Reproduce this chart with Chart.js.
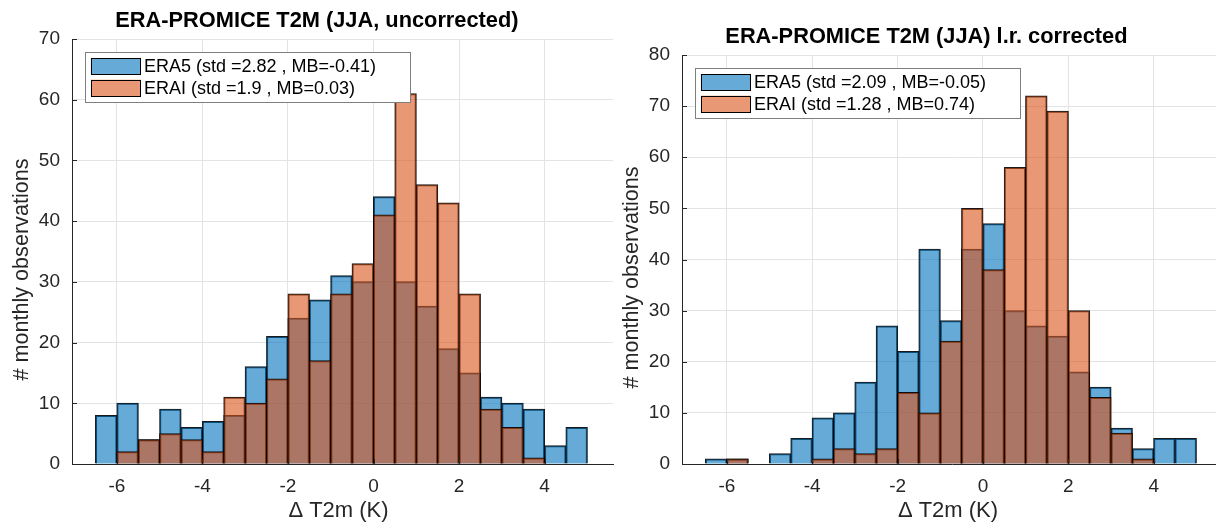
<!DOCTYPE html>
<html><head><meta charset="utf-8">
<script src="https://cdn.jsdelivr.net/npm/chart.js@4.4.1/dist/chart.umd.min.js"></script>
<style>
html,body{margin:0;padding:0;background:#fff;overflow:hidden;width:1216px;height:524px;position:relative;}
.wrap{position:absolute;top:0;height:524px;}
</style></head><body>
<div class="wrap" style="left:0;width:618px"><canvas id="c1" width="618" height="524"></canvas></div>
<div class="wrap" style="left:610px;width:618px"><canvas id="c2" width="618" height="524"></canvas></div>
<script>
// ---- data ----
const binCenters = [-6.25,-5.75,-5.25,-4.75,-4.25,-3.75,-3.25,-2.75,-2.25,-1.75,-1.25,-0.75,-0.25,0.25,0.75,1.25,1.75,2.25,2.75,3.25,3.75,4.25,4.75];
const xTicks = [-6,-4,-2,0,2,4];
const era5Uncorr = [8,10,4,9,6,7,8,16,21,24,27,31,30,44,30,26,19,15,11,10,9,3,6];
const eraiUncorr = [0,2,4,5,4,2,11,10,14,28,17,28,33,41,61,46,43,28,9,6,1,0,0];
const era5Corr   = [1,1,0,2,5,9,10,16,27,22,42,28,42,47,30,27,25,18,15,7,3,5,5];
const eraiCorr   = [0,1,0,0,0,1,3,2,3,14,10,24,50,38,58,72,69,30,13,6,1,0,0];
const titles = ['ERA-PROMICE T2M (JJA, uncorrected)', 'ERA-PROMICE T2M (JJA) l.r. corrected'];
const legendUncorr = ['ERA5 (std =2.82 , MB=-0.41)', 'ERAI (std =1.9 , MB=0.03)'];
const legendCorr   = ['ERA5 (std =2.09 , MB=-0.05)', 'ERAI (std =1.28 , MB=0.74)'];
const yMaxes = [70, 80];
const xLabel = '\u0394 T2m (K)';
const yLabel = '# monthly observations';

const BLUE = 'rgba(0,114,189,0.6)';
const ORANGE = 'rgba(217,83,25,0.6)';
const AXC = '#262626';
const FONT = '"Liberation Sans", Arial, Helvetica, sans-serif';

const decorPlugin = {
  id: 'decor',
  afterDraw(chart, args, opts) {
    const ctx = chart.ctx, a = chart.chartArea;
    const xs = chart.scales.x, ys = chart.scales.y;
    ctx.save();
    // inward tick marks
    ctx.strokeStyle = AXC; ctx.lineWidth = 1;
    ctx.beginPath();
    xTicks.forEach(v => { const px = Math.round(xs.getPixelForValue(v)) + 0.5; ctx.moveTo(px, a.bottom); ctx.lineTo(px, a.bottom - 5); });
    ys.ticks.forEach(t => { const py = Math.round(ys.getPixelForValue(t.value)) + 0.5; ctx.moveTo(a.left, py); ctx.lineTo(a.left + 5, py); });
    ctx.stroke();
    // title
    ctx.fillStyle = '#000';
    ctx.font = 'bold 21.8px ' + FONT;
    ctx.textAlign = 'center'; ctx.textBaseline = 'middle';
    ctx.fillText(opts.title, (a.left + a.right) / 2 - 25.6, a.top - 18);
    // x label
    ctx.fillStyle = AXC;
    ctx.font = '22px ' + FONT;
    ctx.fillText(xLabel, (a.left + a.right) / 2 - 4, 511);
    // y label
    ctx.font = '21.6px ' + FONT;
    ctx.save();
    ctx.translate(a.left - 50, (a.top + a.bottom) / 2 + 18);
    ctx.rotate(-Math.PI / 2);
    ctx.fillText(yLabel, 0, 0);
    ctx.restore();
    // legend
    ctx.font = '18px ' + FONT;
    const labels = chart.data.datasets.slice().sort((p, q) => p.legendIndex - q.legendIndex);
    let tw = 0; labels.forEach(d => { tw = Math.max(tw, ctx.measureText(d.label).width); });
    const bx = a.left + 13.4, by = a.top + 13, bw = 58 + tw + 35, bh = 50;
    ctx.fillStyle = '#fff';
    ctx.fillRect(bx, by, bw, bh);
    ctx.strokeStyle = '#7f7f7f'; ctx.lineWidth = 1;
    ctx.strokeRect(Math.round(bx) + 0.5, Math.round(by) + 0.5, Math.round(bw), Math.round(bh));
    labels.forEach((d, i) => {
      const sy = by + 6 + i * 21.7;
      ctx.fillStyle = d.backgroundColor;
      ctx.fillRect(bx + 5.5, sy, 50, 17);
      ctx.strokeStyle = '#000';
      ctx.strokeRect(Math.round(bx + 5.5) + 0.5, Math.round(sy) + 0.5, 49, 16);
      ctx.fillStyle = '#000';
      ctx.textAlign = 'left'; ctx.textBaseline = 'middle';
      ctx.fillText(d.label, bx + 58.5, sy + 9);
    });
    ctx.restore();
  }
};

function makeChart(id, era5, erai, legendLabels, title, yMax, padRight) {
  const mk = (vals) => binCenters.map((x, i) => ({ x: x, y: vals[i] }));
  const common = { borderColor: 'rgba(0,0,0,0.9)', borderWidth: 1, barPercentage: 1, categoryPercentage: 1, grouped: false, inflateAmount: 0.5, borderSkipped: 'start' };
  return new Chart(document.getElementById(id), {
    type: 'bar',
    data: {
      datasets: [
        Object.assign({ label: legendLabels[0], data: mk(era5), backgroundColor: BLUE, order: 1, legendIndex: 0 }, common),
        Object.assign({ label: legendLabels[1], data: mk(erai), backgroundColor: ORANGE, order: 0, legendIndex: 1 }, common)
      ]
    },
    options: {
      responsive: false,
      animation: false,
      devicePixelRatio: 1,
      layout: { padding: { left: 0, top: yMax === 70 ? 39 : 55, right: padRight, bottom: 0 } },
      plugins: { legend: { display: false }, tooltip: { enabled: false }, decor: { title: title } },
      scales: {
        x: {
          type: 'linear', min: -7.05, max: 5.6, offset: false,
          afterBuildTicks: s => { s.ticks = xTicks.map(v => ({ value: v })); },
          afterFit: s => { s.height = 60; },
          grid: { color: '#e3e3e3', drawTicks: false, lineWidth: 1, offset: false },
          border: { color: AXC, width: 1 },
          ticks: { color: AXC, font: { family: FONT, size: 19 }, padding: 11, maxRotation: 0 }
        },
        y: {
          min: 0, max: yMax,
          ticks: { stepSize: 10, color: AXC, font: { family: FONT, size: 19 }, padding: 12 },
          afterFit: s => { s.width = 72; },
          grid: { color: '#e3e3e3', drawTicks: false, lineWidth: 1 },
          border: { color: AXC, width: 1 }
        }
      }
    },
    plugins: [decorPlugin]
  });
}

makeChart('c1', era5Uncorr, eraiUncorr, legendUncorr, titles[0], yMaxes[0], 5);
makeChart('c2', era5Corr, eraiCorr, legendCorr, titles[1], yMaxes[1], 6);
</script>
</body></html>
